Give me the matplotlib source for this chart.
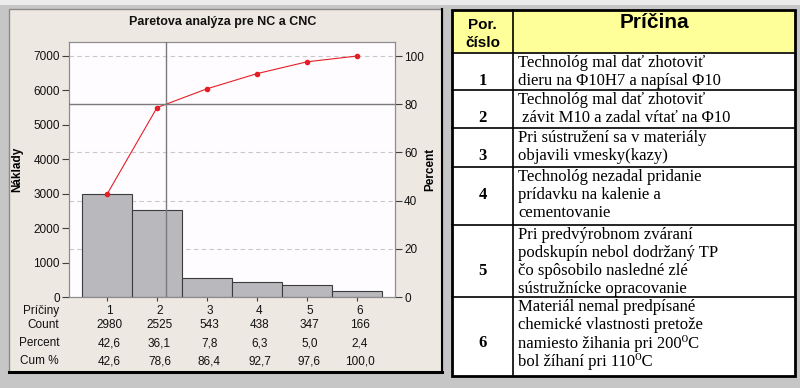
import matplotlib
matplotlib.use("Agg")
import matplotlib.pyplot as plt
import matplotlib.transforms as mtransforms
from matplotlib.patches import Rectangle
from matplotlib import font_manager
import numpy as np

# ---------------- data ----------------
causes = ["1", "2", "3", "4", "5", "6"]
counts = [2980, 2525, 543, 438, 347, 166]
percent = [42.6, 36.1, 7.8, 6.3, 5.0, 2.4]
cum_percent = [42.6, 78.6, 86.4, 92.7, 97.6, 100.0]
row_labels = ["Príčiny", "Count", "Percent", "Cum %"]

title = "Paretova analýza pre NC a CNC"
cause_header = "Príčina"
number_header = ["Por.", "číslo"]
cause_texts = [
    ["Technológ mal dať zhotoviť", "dieru na Φ10H7 a napísal Φ10"],
    ["Technológ mal dať zhotoviť", " závit M10 a zadal vŕtať na Φ10"],
    ["Pri sústružení sa v materiály", "objavili vmesky(kazy)"],
    ["Technológ nezadal pridanie", "prídavku na kalenie a", "cementovanie"],
    ["Pri predvýrobnom zváraní", "podskupín nebol dodržaný TP",
     "čo spôsobilo nasledné zlé", "sústružnícke opracovanie"],
    ["Materiál nemal predpísané", "chemické vlastnosti pretože",
     "namiesto žihania pri 200⁰C", "bol žíhaní pri 110⁰C"],
]

# ---------------- style ----------------
installed = {f.name for f in font_manager.fontManager.ttflist}
SANS = "Liberation Sans Narrow" if "Liberation Sans Narrow" in installed else "Liberation Sans"
SERIF = ["Liberation Serif", "DejaVu Serif"]
PANEL = "#eee8e2"
PLOT_BG = "#fffcff"
BAR = "#b9b8bd"
RED = "#e41e26"
REF = "#7a7a7a"

plt.rcParams["font.family"] = [SANS, "DejaVu Sans"]

W, H = 800, 388
fig = plt.figure(figsize=(W / 100, H / 100), dpi=100)
fig.patch.set_facecolor("#c6c6c6")

# background axes in pixel units for the frames and the cause table
bg = fig.add_axes([0, 0, 1, 1])
bg.set_xlim(0, W)
bg.set_ylim(H, 0)
bg.axis("off")

bg.add_patch(Rectangle((0, 0), W, 5, facecolor="#ececec", edgecolor="none"))
bg.add_patch(Rectangle((9, 9), 433, 363, facecolor=PANEL, edgecolor="#8a8a8a", lw=1))
bg.plot([9, 442], [372, 372], color="black", lw=2.2)
bg.plot([442, 442], [9, 372], color="black", lw=1.5)

# ---------------- Pareto chart ----------------
left, right, top, bottom = 69, 395, 42, 297
ax = fig.add_axes([left / W, 1 - bottom / H, (right - left) / W, (bottom - top) / H])
ax.set_facecolor(PLOT_BG)
x = np.arange(1, len(counts) + 1)
total = sum(counts)

ax.bar(x, counts, width=1.0, color=BAR, edgecolor="#3c3c3c", linewidth=0.8, zorder=2)
ax.set_xlim(0.24, len(counts) + 0.76)
ymax = 7000 * (bottom - top) / 241
ax.set_ylim(0, ymax)
ax.set_yticks(range(0, 7001, 1000))
ax.set_xticks(x)
ax.set_xticklabels([])

ax2 = ax.twinx()
ax2.set_ylim(0, ymax / total * 100)
ax2.set_yticks(range(0, 101, 20))

for p in range(20, 101, 20):
    ax.axhline(p * total / 100, color="#c8c8c8", lw=0.8, ls=(0, (4, 3)), zorder=0)

ax2.plot(x, cum_percent, color=RED, lw=0.8, marker="o", markersize=3, zorder=3)

x80 = np.interp(80, cum_percent, x)
ax2.axhline(80, color=REF, lw=1.0, zorder=4)
ax2.axvline(x80, color=REF, lw=1.0, zorder=4)

for a in (ax, ax2):
    a.tick_params(length=5, width=0.8, color="#404040", labelsize=8.5, pad=1.5,
                  labelcolor="#111111")
    for s in a.spines.values():
        s.set_color("#8c8c8c")
        s.set_linewidth(0.8)
ax.tick_params(axis="x", length=3)

ax.set_ylabel("Náklady", fontsize=8.5, fontweight="bold", labelpad=7)
ax2.set_ylabel("Percent", fontsize=8.5, fontweight="bold", labelpad=0)

fig.text(223 / W, 1 - 22 / H, title, ha="center", va="center",
         fontsize=9, fontweight="bold", color="#111111")

# summary table under the bars
tr = mtransforms.blended_transform_factory(ax.transData, bg.transData)
row_y = [311, 325, 343, 361]
rows = [causes,
        [str(c) for c in counts],
        [f"{v:.1f}".replace(".", ",") for v in percent],
        [f"{v:.1f}".replace(".", ",") for v in cum_percent]]
for lab, yy in zip(row_labels, row_y):
    bg.text(59, yy, lab, ha="right", va="center", fontsize=8.5, color="#111111")
for vals, yy in zip(rows, row_y):
    for xi, v in zip(x, vals):
        bg.text(xi + 0.05, yy, v, transform=tr, ha="center", va="center",
                fontsize=8.5, color="#111111")

# ---------------- cause table ----------------
tx0, tx1, col = 452, 795, 513
row_edges = [10, 53, 90, 128, 167, 225, 297, 376]
bg.add_patch(Rectangle((tx0, row_edges[0]), tx1 - tx0, row_edges[1] - row_edges[0],
                       facecolor="#ffff99", edgecolor="none"))
bg.add_patch(Rectangle((tx0, row_edges[1]), tx1 - tx0, row_edges[-1] - row_edges[1],
                       facecolor="white", edgecolor="none"))
for yy in row_edges[1:-1]:
    bg.plot([tx0, tx1], [yy, yy], color="black", lw=1.2)
bg.plot([col, col], [row_edges[0], row_edges[-1]], color="black", lw=1.2)
bg.add_patch(Rectangle((tx0, row_edges[0]), tx1 - tx0, row_edges[-1] - row_edges[0],
                       facecolor="none", edgecolor="black", lw=2))

bg.text((col + tx1) / 2, 23, cause_header, ha="center", va="center",
        fontsize=15, fontweight="bold", family="Liberation Sans")
for i, t in enumerate(number_header):
    bg.text((tx0 + col) / 2, 25 + i * 18, t, ha="center", va="center",
            fontsize=11, fontweight="bold", family="Liberation Sans")

for k, lines in enumerate(cause_texts):
    top_y = row_edges[k + 1]
    for i, line in enumerate(lines):
        bg.text(518, top_y + 10 + i * 18, line, ha="left", va="center",
                fontsize=12, family=SERIF)
    num_line = len(lines) // 2
    bg.text((tx0 + col) / 2, top_y + 10 + num_line * 18, causes[k], ha="center",
            va="center", fontsize=12, fontweight="bold", family=SERIF)

fig.savefig("out.png", dpi=100, facecolor=fig.get_facecolor())
